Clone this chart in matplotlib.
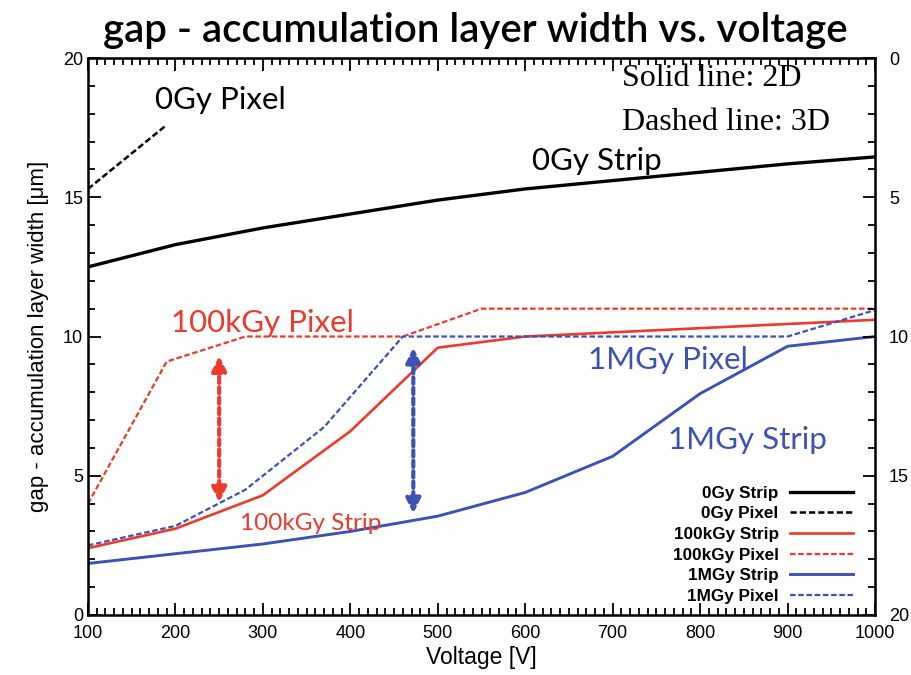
import matplotlib
matplotlib.use("Agg")
import matplotlib.pyplot as plt
from matplotlib.ticker import MultipleLocator

RED = "#ec3a2c"
BLUE = "#3d52b2"

# voltage [V] and gap width [um] for each sensor type
v_0gy_strip = [100, 200, 300, 400, 500, 600, 700, 800, 900, 1000]
w_0gy_strip = [12.5, 13.3, 13.9, 14.4, 14.9, 15.3, 15.6, 15.9, 16.2, 16.45]

v_0gy_pixel = [100, 190]
w_0gy_pixel = [15.3, 17.6]

v_100k_strip = [100, 200, 300, 400, 500, 600, 1000]
w_100k_strip = [2.4, 3.1, 4.3, 6.6, 9.6, 10.0, 10.6]

v_100k_pixel = [100, 190, 280, 460, 550, 1000]
w_100k_pixel = [4.0, 9.1, 10.0, 10.0, 11.0, 11.0]

v_1m_strip = [100, 200, 300, 400, 500, 600, 700, 800, 900, 1000]
w_1m_strip = [1.85, 2.2, 2.55, 3.0, 3.55, 4.4, 5.7, 7.95, 9.65, 10.0]

v_1m_pixel = [100, 200, 280, 370, 460, 900, 1000]
w_1m_pixel = [2.5, 3.2, 4.5, 6.75, 10.0, 10.0, 10.95]

# gap arrows: (voltage, top, bottom)
red_arrow = (250, 9.3, 4.05)
blue_arrow = (472, 9.6, 3.65)

fig = plt.figure(figsize=(9.11, 6.75), dpi=100)
ax = fig.add_axes([0.0966, 0.0889, 0.8639, 0.8251])

dash = (0, (2.5, 1.2))
ax.plot(v_0gy_strip, w_0gy_strip, color="black", lw=2.4, label="0Gy Strip")
ax.plot(v_0gy_pixel, w_0gy_pixel, color="black", lw=1.8, ls=dash, label="0Gy Pixel")
ax.plot(v_100k_strip, w_100k_strip, color=RED, lw=1.9, label="100kGy Strip")
ax.plot(v_100k_pixel, w_100k_pixel, color=RED, lw=1.6, ls=dash, label="100kGy Pixel")
ax.plot(v_1m_strip, w_1m_strip, color=BLUE, lw=2.1, label="1MGy Strip")
ax.plot(v_1m_pixel, w_1m_pixel, color=BLUE, lw=1.6, ls=dash, label="1MGy Pixel")

for (x, top, bot), col in [(red_arrow, RED), (blue_arrow, BLUE)]:
    ax.annotate("", xy=(x, top), xytext=(x, bot),
                arrowprops=dict(arrowstyle="<|-|>", color=col, lw=3,
                                ls=(0, (1.5, 1)), mutation_scale=22,
                                shrinkA=0, shrinkB=0))

ax.set_xlim(100, 1000)
ax.set_ylim(0, 20)
ax.xaxis.set_major_locator(MultipleLocator(100))
ax.xaxis.set_minor_locator(MultipleLocator(10))
ax.yaxis.set_major_locator(MultipleLocator(5))
ax.yaxis.set_minor_locator(MultipleLocator(1))
ax.tick_params(which="both", direction="in", top=True, right=False, width=1.3)
ax.tick_params(which="major", length=9, labelsize=13)
ax.tick_params(which="minor", length=5)
ax.tick_params(axis="x", pad=7)
for lab in ax.get_xticklabels() + ax.get_yticklabels():
    lab.set_family("Liberation Sans")
for sp in ax.spines.values():
    sp.set_linewidth(1.8)

# right-hand axis runs the other way
ax2 = ax.twinx()
ax2.set_ylim(20, 0)
ax2.yaxis.set_major_locator(MultipleLocator(5))
ax2.yaxis.set_minor_locator(MultipleLocator(1))
ax2.tick_params(which="both", direction="in", width=1.3)
ax2.tick_params(which="major", length=9, labelsize=13, pad=10)
ax2.tick_params(which="minor", length=5)
for lab in ax2.get_yticklabels():
    lab.set_family("Liberation Sans")

ax.set_xlabel("Voltage [V]", fontsize=16.5, family="Liberation Sans", labelpad=3)
ax.set_ylabel("gap - accumulation layer width [μm]", fontsize=16,
              family="Liberation Sans", labelpad=10)
fig.text(0.522, 0.955, "gap - accumulation layer width vs. voltage",
         fontsize=29, family="Lato", weight="semibold", ha="center", va="center")

ax.text(251, 18.5, "0Gy Pixel", fontsize=22.5, family="Lato", ha="center", va="center")
ax.text(682, 16.3, "0Gy Strip", fontsize=22.5, family="Lato", ha="center", va="center")
ax.text(299, 10.5, "100kGy Pixel", fontsize=22.5, family="Lato", color=RED, ha="center", va="center")
ax.text(763, 9.15, "1MGy Pixel", fontsize=22.5, family="Lato", color=BLUE, ha="center", va="center")
ax.text(854, 6.28, "1MGy Strip", fontsize=22.5, family="Lato", color=BLUE, ha="center", va="center")
ax.text(355, 3.3, "100kGy Strip", fontsize=17.5, family="Lato", color=RED, ha="center", va="center")

ax.text(0.678, 19.28, "Solid line: 2D", transform=ax.get_yaxis_transform(),
        fontsize=23, family="Liberation Serif", va="center", ha="left")
ax.text(0.678, 17.7, "Dashed line: 3D", transform=ax.get_yaxis_transform(),
        fontsize=23, family="Liberation Serif", va="center", ha="left")

ax.legend(loc="lower right", bbox_to_anchor=(0.972, 0.02), frameon=False,
          borderaxespad=0, borderpad=0, markerfirst=False, handlelength=3.7,
          handletextpad=0.65, labelspacing=0.33,
          prop={"family": "Liberation Sans", "size": 12.3, "weight": "bold"})

plt.savefig("out.png", dpi=100)
